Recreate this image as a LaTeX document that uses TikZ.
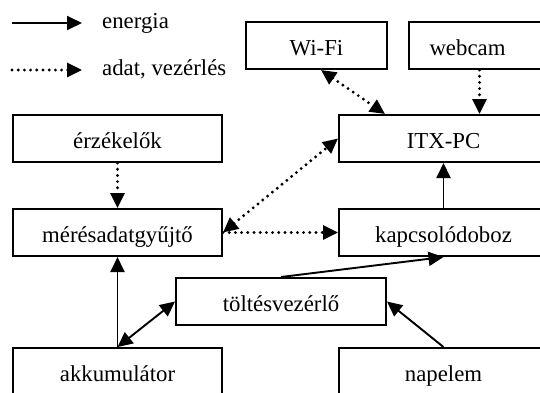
\documentclass[tikz,border=0pt]{standalone}
\usepackage{fontspec}
\setmainfont{Liberation Serif}
\usetikzlibrary{arrows.meta,calc}
\begin{document}
\begin{tikzpicture}[x=1pt,y=-1pt,
  lbl/.style={font=\fontsize{22.8}{27}\selectfont},
  box/.style={lbl,draw,line width=2pt,rectangle,minimum height=47pt,inner sep=0pt,text height=19.6pt,text depth=0pt},
  wide/.style={box,minimum width=209pt},
  narrow/.style={box,minimum width=141pt},
  en/.style={line width=1.9pt,-{Triangle[length=15pt,width=14pt]}},
  endbl/.style={line width=1.9pt,{Triangle[length=15pt,width=14pt]}-{Triangle[length=15pt,width=14pt]}},
  dat/.style={line width=3.2pt,line cap=round,dash pattern=on 0pt off 6.2pt,-{Triangle[length=15pt,width=14pt]}},
  datdbl/.style={line width=3.2pt,line cap=round,dash pattern=on 0pt off 6.2pt,{Triangle[length=15pt,width=14pt]}-{Triangle[length=15pt,width=14pt]}},
]
\useasboundingbox (0,0) rectangle (540,392);
\clip (0,0) rectangle (540,392);

% legend
\coordinate (l1a) at (12,23);
\coordinate (l1b) at (82,23);
\coordinate (l2a) at (12,70);
\coordinate (l2b) at (82,70);
\draw[en] (l1a) -- (l1b);
\draw[dat] (l2a) -- (l2b);
\node[lbl,anchor=base west,inner sep=0pt] (tEn) at (102,28.5) {energia};
\node[lbl,anchor=base west,inner sep=0pt] (tDat) at (102,75) {adat, vezérlés};

% boxes
\node[narrow] (wifi) at (316.5,45.5) {Wi-Fi};
\node[narrow] (webcam) at (479.5,45.5) {webcam\hspace*{24pt}};
\node[wide] (itx) at (443.5,138.5) {ITX-PC};
\node[wide] (erz) at (117.5,138.5) {érzékelők};
\node[wide] (mg) at (117.5,232.5) {mérésadatgyűjtő};
\node[wide] (kd) at (443.5,232.5) {kapcsolódoboz};
\node[box,minimum width=210pt] (tv) at (281,301.5) {töltésvezérlő};
\node[wide] (akk) at (117.5,371.5) {akkumulátor};
\node[wide] (nap) at (443.5,371.5) {napelem};

% data connectors
\draw[datdbl] ([xshift=4.5pt]wifi.south) -- ([xshift=-58.5pt]itx.north);
\draw[dat] (webcam.south) -- (webcam.south |- itx.north);
\draw[dat] (erz.south) -- (mg.north);
\draw[datdbl] (mg.east) -- (itx.west);
\draw[dat] (mg.east) -- (kd.west);

% energy connectors
\draw[en] (kd.north) -- (itx.south);
\draw[en] (akk.north) -- (mg.south);
\draw[endbl] (akk.north) -- (tv.west);
\draw[en] (nap.north) -- (tv.east);
\draw[en] (tv.north) -- (kd.south);
\end{tikzpicture}
\end{document}
